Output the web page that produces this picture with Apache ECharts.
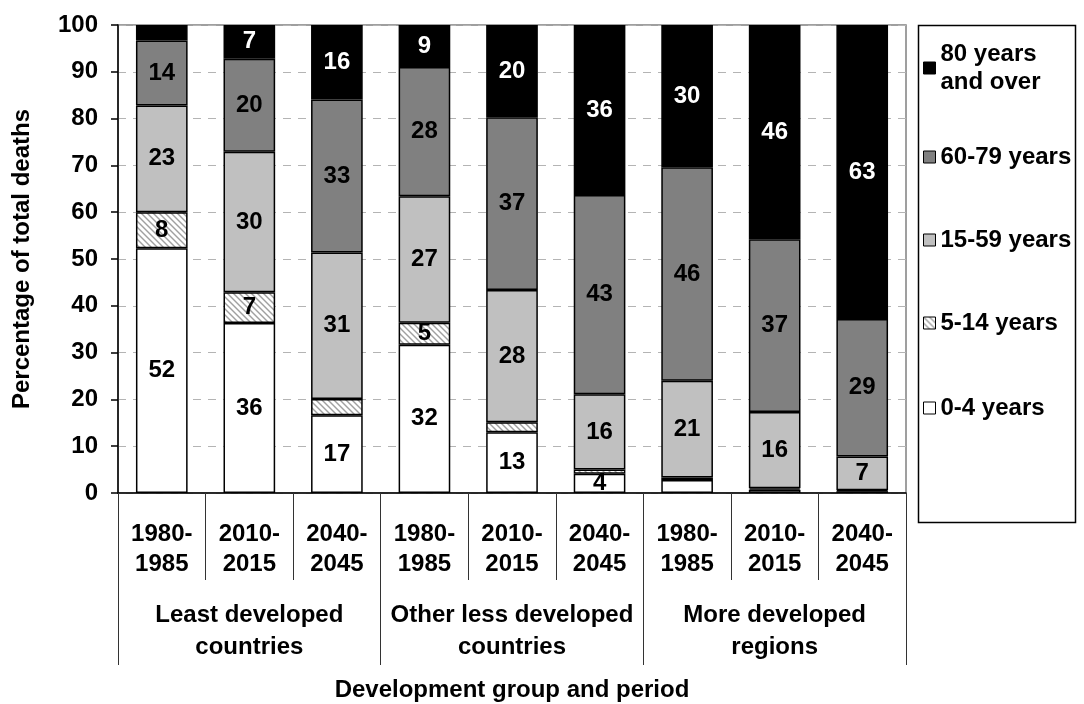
<!DOCTYPE html>
<html>
<head>
<meta charset="utf-8">
<script src="https://cdn.jsdelivr.net/npm/echarts@6/dist/echarts.min.js"></script>
<style>
  html, body { margin: 0; padding: 0; background: #fff; }
  #chart { width: 1084px; height: 704px; }
</style>
</head>
<body>
<div id="chart"></div>
<script>
// Periods (one bar each) and the development groups they belong to
const periods = ['1980-\n1985', '2010-\n2015', '2040-\n2045',
                 '1980-\n1985', '2010-\n2015', '2040-\n2045',
                 '1980-\n1985', '2010-\n2015', '2040-\n2045'];
const groups = ['Least developed\ncountries', 'Other less developed\ncountries', 'More developed\nregions'];
const yTicks = [0, 100, 10];

// Share of total deaths (%) by age group
const age0to4   = [52.3, 36.3, 16.6, 31.7, 13.0,  4.1,  2.8,  0.7,  0.4];
const age5to14  = [ 7.7,  6.6,  3.5,  4.7,  2.1,  0.9,  0.5,  0.3,  0.2];
const age15to59 = [22.8, 30.0, 31.3, 27.0, 28.3, 16.1, 20.7, 16.3,  7.2];
const age60to79 = [13.9, 19.9, 32.7, 27.6, 36.9, 42.6, 45.6, 36.9, 29.4];
const age80plus = [ 3.3,  7.2, 15.9,  9.0, 19.7, 36.3, 30.4, 45.8, 62.8];

const seriesNames = ['0-4 years', '5-14 years', '15-59 years', '60-79 years', '80 years and over'];

const FONT = 'Liberation Sans, Arial, sans-serif';
const FS = 24;

// diagonal hatch fill for the 5-14 segment
function hatch() {
  const c = document.createElement('canvas');
  c.width = 6; c.height = 6;
  const g = c.getContext('2d');
  g.fillStyle = '#ffffff';
  g.fillRect(0, 0, 6, 6);
  g.strokeStyle = '#a0a0a0';
  g.lineWidth = 1.4;
  [-6, 0, 6].forEach(k => {
    g.beginPath();
    g.moveTo(k - 1, -1);
    g.lineTo(k + 7, 7);
    g.stroke();
  });
  return { image: c, repeat: 'repeat' };
}

const fills = ['#ffffff', hatch(), '#c0c0c0', '#808080', '#000000'];
const labelColors = ['#000', '#000', '#000', '#000', '#fff'];
const values = [age0to4, age5to14, age15to59, age60to79, age80plus];

const series = seriesNames.map((name, i) => ({
  name: name,
  type: 'bar',
  stack: 'total',
  barWidth: '59%',
  data: values[i],
  itemStyle: { color: fills[i], borderColor: '#000', borderWidth: 1.5 },
  label: {
    show: true,
    position: 'inside',
    color: labelColors[i],
    fontFamily: FONT,
    fontWeight: 'bold',
    fontSize: FS,
    formatter: p => (p.value >= 4 ? String(Math.round(p.value)) : '')
  },
  emphasis: { disabled: true }
}));

// legend entries, top to bottom
const legendRows = [
  { name: '80 years and over', center: 68 },
  { name: '60-79 years', center: 157 },
  { name: '15-59 years', center: 240 },
  { name: '5-14 years', center: 323 },
  { name: '0-4 years', center: 408 }
];
const legends = legendRows.map((r, i) => ({
  data: [r.name],
  left: 923,
  top: i === 0 ? r.center - 42 : r.center - 14,
  padding: 0,
  orient: 'vertical',
  icon: 'rect',
  itemWidth: 12,
  itemHeight: 12,
  itemGap: 0,
  selectedMode: false,
  itemStyle: { borderColor: '#000', borderWidth: 1 },
  formatter: n => (n === '80 years and over' ? '80 years\nand over' : n),
  textStyle: {
    fontFamily: FONT, fontWeight: 'bold', fontSize: FS, color: '#000',
    lineHeight: 28,
    padding: i === 0 ? [28, 0, 0, 0] : 0
  }
}));

const gridBox = { left: 118, right: 178, top: 25, bottom: 211, outerBoundsMode: 'none', containLabel: false };

const chart = echarts.init(document.getElementById('chart'), null, { renderer: 'canvas' });
chart.setOption({
  animation: false,
  backgroundColor: '#fff',
  legend: legends,
  grid: [
    Object.assign({ show: true, borderColor: '#808080', borderWidth: 1.5, backgroundColor: 'transparent' }, gridBox),
    Object.assign({ show: false }, gridBox)
  ],
  graphic: [{
    type: 'rect',
    shape: { x: 918.5, y: 25.5, width: 157, height: 497 },
    style: { fill: 'none', stroke: '#000', lineWidth: 1.5 },
    silent: true
  }],
  xAxis: [
    {
      type: 'category',
      gridIndex: 0,
      data: periods,
      axisLine: { show: true, lineStyle: { color: '#000', width: 1.5 } },
      axisTick: { show: true, interval: 0, length: 87, lineStyle: { color: '#333', width: 1 } },
      axisLabel: {
        interval: 0, margin: 26, lineHeight: 30,
        fontFamily: FONT, fontWeight: 'bold', fontSize: FS, color: '#000'
      }
    },
    {
      type: 'category',
      gridIndex: 1,
      position: 'bottom',
      data: groups,
      axisLine: { show: false },
      axisTick: { show: true, interval: 0, length: 172, lineStyle: { color: '#333', width: 1 } },
      axisLabel: {
        interval: 0, margin: 106, lineHeight: 32,
        fontFamily: FONT, fontWeight: 'bold', fontSize: FS, color: '#000'
      },
      name: 'Development group and period',
      nameLocation: 'middle',
      nameGap: 185,
      nameTextStyle: { fontFamily: FONT, fontWeight: 'bold', fontSize: FS, color: '#000' }
    }
  ],
  yAxis: [
    {
      type: 'value',
      gridIndex: 0,
      min: yTicks[0],
      max: yTicks[1],
      interval: yTicks[2],
      axisLine: { show: true, lineStyle: { color: '#000', width: 1.5 } },
      axisTick: { show: true, length: 7, lineStyle: { color: '#000', width: 1.5 } },
      axisLabel: { margin: 20, fontFamily: FONT, fontWeight: 'bold', fontSize: FS, color: '#000' },
      splitLine: { show: true, lineStyle: { color: '#b4b4b4', type: [8, 7], width: 1 } },
      name: 'Percentage of total deaths',
      nameLocation: 'middle',
      nameGap: 84,
      nameTextStyle: { fontFamily: FONT, fontWeight: 'bold', fontSize: FS, color: '#000' }
    },
    { type: 'value', gridIndex: 1, show: false, min: 0, max: 100 }
  ],
  series: series
});
</script>
</body>
</html>
